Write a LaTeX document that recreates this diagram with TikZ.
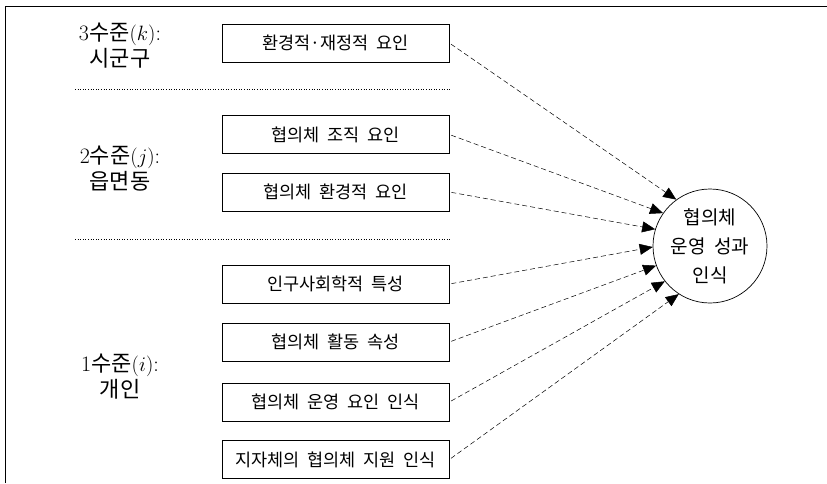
\documentclass[tikz,border=0pt]{standalone}
\usepackage{fontspec}
\newfontfamily\kr[WordSpace=2]{Noto Sans CJK KR}
\usetikzlibrary{arrows.meta}
\begin{document}
\begin{tikzpicture}[x=1pt,y=-1pt,
 factor/.style={draw,line width=0.7pt,minimum width=227pt,minimum height=38pt,inner sep=0pt,font=\kr\fontsize{17.5}{20}\selectfont},
 level/.style={align=center,font=\fontsize{22}{26}\selectfont},
 sep/.style={dotted,line width=0.6pt},
 link/.style={dash pattern=on 5pt off 3pt,line width=0.5pt,-{Triangle[length=13pt,width=11pt]},shorten <=2pt},
 outcome/.style={circle,draw,line width=0.7pt,minimum size=114pt,inner sep=0pt,align=center,font=\kr\fontsize{19}{29}\selectfont}]
\useasboundingbox (0,0) rectangle (827,483);
\draw[line width=1pt] (5,483) -- (5,6) -- (827,6);

\node[level] (l3) at (120,46) {3{\kr 수준}$(k)$:\\{\kr 시군구}};
\node[level] (l2) at (120,169) {2{\kr 수준}$(j)$:\\{\kr 읍면동}};
\node[level] (l1) at (120,377) {1{\kr 수준}$(i)$:\\{\kr 개인}};

\draw[sep] (75,89) -- (451,89);
\draw[sep] (75,239) -- (451,239);

\node[factor] (b1) at (335.5,43) {환경적·재정적 요인};
\node[factor] (b2) at (335.5,134.5) {협의체 조직 요인};
\node[factor] (b3) at (335.5,192) {협의체 환경적 요인};
\node[factor] (b4) at (335.5,284) {인구사회학적 특성};
\node[factor] (b5) at (335.5,342) {협의체 활동 속성};
\node[factor] (b6) at (335.5,402) {협의체 운영 요인 인식};
\node[factor] (b7) at (335.5,459.5) {지자체의 협의체 지원 인식};

\node[outcome] (out) at (710,246) {협의체\\운영 성과\\인식};

\draw[link] (b1.east) -- (out.126);
\draw[link] (b2.east) -- (out.145);
\draw[link] (b3.east) -- (out.163);
\draw[link] (b4.east) -- (out.181);
\draw[link] (b5.east) -- (out.200);
\draw[link] (b6.east) -- (out.218);
\draw[link] (b7.east) -- (out.237);
\end{tikzpicture}
\end{document}
